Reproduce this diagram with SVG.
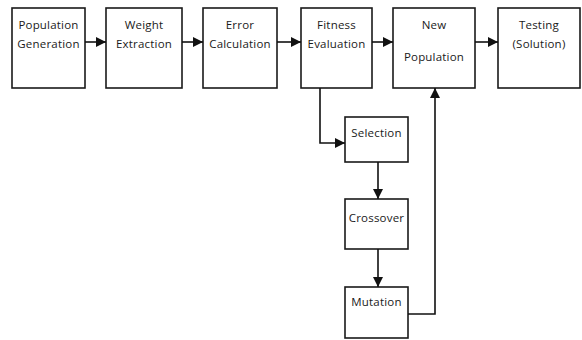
<svg xmlns="http://www.w3.org/2000/svg" width="582" height="340" viewBox="0 0 582 340">
<defs>
<marker id="ah" viewBox="0 0 10 10" refX="10" refY="5" markerWidth="10" markerHeight="10" markerUnits="userSpaceOnUse" orient="auto">
<path d="M0,0 L10,5 L0,10 z" fill="#111"/>
</marker>
<style>
.box{fill:#fff;stroke:#1a1a1a;stroke-width:1.6}
.t{font-family:"Open Sans","Liberation Sans",sans-serif;font-size:11.5px;fill:#1a1a1a;text-anchor:middle;letter-spacing:0.2px}
.c{fill:none;stroke:#111;stroke-width:1.6;marker-end:url(#ah)}
</style>
</defs>
<rect width="582" height="340" fill="#fff"/>
<g id="popgen"><rect class="box" x="12" y="8" width="73" height="80"/><text class="t" x="48.5" y="29">Population</text><text class="t" x="48.5" y="48">Generation</text></g>
<g id="weight"><rect class="box" x="106" y="8" width="76" height="80"/><text class="t" x="144" y="29">Weight</text><text class="t" x="144" y="48">Extraction</text></g>
<g id="error"><rect class="box" x="203" y="8" width="74" height="80"/><text class="t" x="240" y="29">Error</text><text class="t" x="240" y="48">Calculation</text></g>
<g id="fitness"><rect class="box" x="301" y="8" width="71" height="80"/><text class="t" x="336.5" y="29">Fitness</text><text class="t" x="336.5" y="48">Evaluation</text></g>
<g id="newpop"><rect class="box" x="393" y="8" width="82" height="80"/><text class="t" x="434" y="29">New</text><text class="t" x="434" y="61">Population</text></g>
<g id="testing"><rect class="box" x="498" y="8" width="82" height="80"/><text class="t" x="539" y="29">Testing</text><text class="t" x="539" y="48">(Solution)</text></g>
<g id="selection"><rect class="box" x="345" y="117" width="63" height="45"/><text class="t" x="376.5" y="137">Selection</text></g>
<g id="crossover"><rect class="box" x="345" y="199" width="63" height="50"/><text class="t" x="376.5" y="222">Crossover</text></g>
<g id="mutation"><rect class="box" x="345" y="287" width="63" height="51"/><text class="t" x="376.5" y="306">Mutation</text></g>
<g id="connectors">
<path class="c" d="M85,42 H106"/>
<path class="c" d="M182,42 H203"/>
<path class="c" d="M277,42 H301"/>
<path class="c" d="M372,42 H393"/>
<path class="c" d="M475,42 H498"/>
<path class="c" d="M320,88 V143 H345"/>
<path class="c" d="M378,162 V199"/>
<path class="c" d="M378,249 V287"/>
<path class="c" d="M408,314 H435 V88"/>
</g>
</svg>
